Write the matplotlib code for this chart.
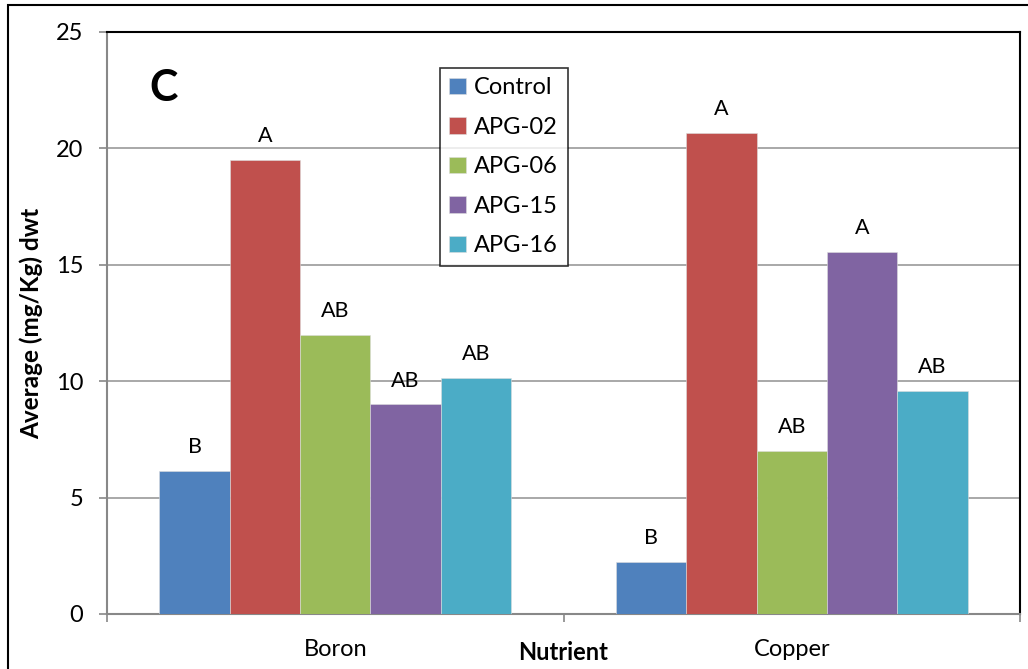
import numpy as np
import matplotlib.pyplot as plt
from matplotlib.patches import Rectangle

plt.rcParams['font.family'] = ['Lato', 'DejaVu Sans']

nutrients = ['Boron', 'Copper']
series = ['Control', 'APG-02', 'APG-06', 'APG-15', 'APG-16']
values = [
    [6.15, 2.25],
    [19.5, 20.65],
    [12.0, 7.0],
    [9.0, 15.55],
    [10.12, 9.58],
]
letters = [
    ['B', 'B'],
    ['A', 'A'],
    ['AB', 'AB'],
    ['AB', 'A'],
    ['AB', 'AB'],
]
colors = ['#4F81BD', '#C0504D', '#9BBB59', '#8064A2', '#4BACC6']

fig = plt.figure(figsize=(10.28, 6.69), dpi=100)
ax = fig.add_axes([107 / 1028, 1 - 614 / 669, (1020 - 107) / 1028, (614 - 32) / 669])

# outer chart border (cropped on right and bottom)
fig.patches.append(Rectangle((8 / 1028, -0.05), 1.1, 1 - 5 / 669 + 0.05,
                             transform=fig.transFigure, fill=False,
                             edgecolor='black', linewidth=1.5, zorder=0))

x = np.arange(len(nutrients))
width = 0.154
for i, (name, vals) in enumerate(zip(series, values)):
    pos = x + (i - 2) * width
    ax.bar(pos, vals, width, color=colors[i], label=name,
           edgecolor='#dddddd', linewidth=0.4, zorder=3)
    for px, v, lab in zip(pos, vals, letters[i]):
        ax.text(px, v + 0.6, lab, ha='center', va='bottom', fontsize=15.5)

ax.set_xlim(-0.5, 1.5)
ax.set_ylim(0, 25)
ax.set_yticks(range(0, 26, 5))
ax.yaxis.grid(True, color='#999999', linewidth=1.2, zorder=0)
ax.set_axisbelow(True)

ax.set_xticks([-0.5, 0.5, 1.5])
ax.set_xticklabels([])
ax.set_xticks(x, minor=True)
ax.set_xticklabels(nutrients, minor=True, fontsize=17)
ax.tick_params(axis='x', which='minor', length=0, pad=18)
ax.tick_params(axis='x', which='major', length=6, color='#888888', width=1.2)
ax.tick_params(axis='y', length=6, color='#888888', width=1.2, labelsize=17, pad=11)

for s in ['left', 'bottom']:
    ax.spines[s].set_color('#888888')
    ax.spines[s].set_linewidth(1.5)
for s in ['top', 'right']:
    ax.spines[s].set_color('black')
    ax.spines[s].set_linewidth(1.5)

ax.set_ylabel('Average (mg/Kg) dwt', fontsize=17.5, fontweight='bold', labelpad=9)
ax.text(0.5, (614 - 652) / 582, 'Nutrient', transform=ax.transAxes, ha='center',
        va='center', fontsize=17, fontweight='bold')

ax.text((164 - 107) / 913, (614 - 88) / 582, 'C', transform=ax.transAxes,
        fontsize=31, fontweight='bold', ha='center', va='center')

leg = ax.legend(loc='upper left', bbox_to_anchor=((440 - 107) / 913, (614 - 68) / 582),
                fontsize=17, frameon=True, fancybox=False, edgecolor='black',
                handlelength=0.7, handleheight=0.7, handletextpad=0.35,
                labelspacing=0.78, borderpad=0.4, borderaxespad=0)
leg.get_frame().set_linewidth(1.2)

fig.savefig('out.png', dpi=100)
